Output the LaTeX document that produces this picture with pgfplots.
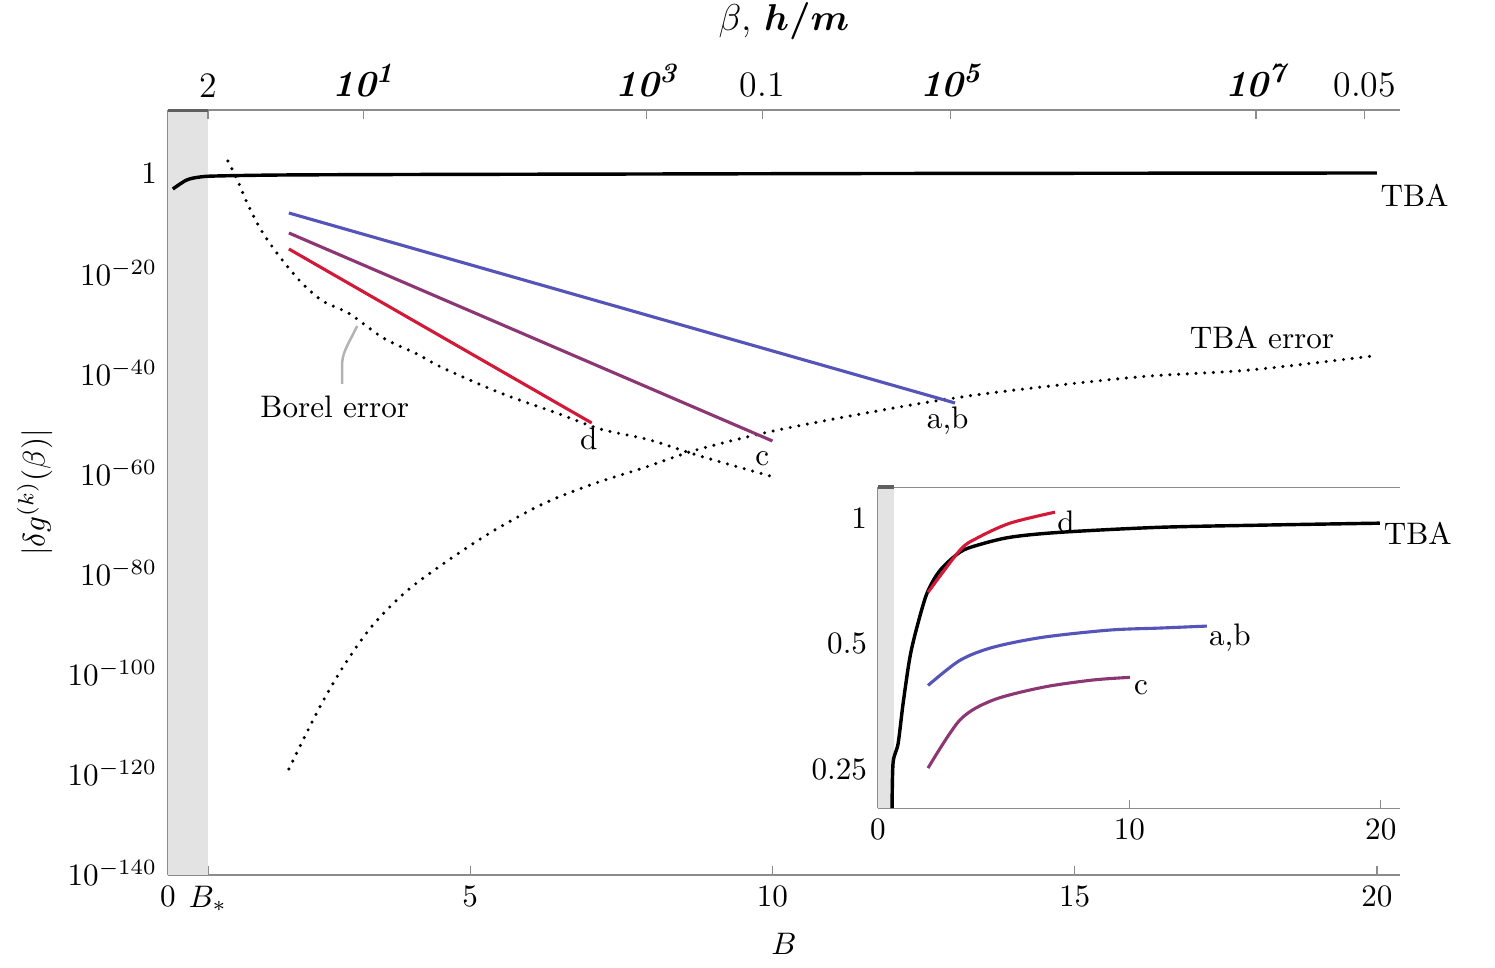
\documentclass[border=0pt]{standalone}
\usepackage{pgfplots}
\pgfplotsset{compat=1.18}
\usepackage{amsmath}
\usepackage{bm}

\definecolor{cab}{RGB}{85,85,185}
\definecolor{cc}{RGB}{140,55,115}
\definecolor{cd}{RGB}{210,25,55}
\definecolor{axgray}{RGB}{140,140,140}
\definecolor{band}{RGB}{227,227,227}

\pgfplotsset{
  dotline/.style={black, line width=1.1pt, line cap=round, dash pattern=on 0pt off 2.8pt},
  colline/.style={line width=1pt},
}
\newcommand{\bp}[1]{{\fontsize{11.8}{12}\selectfont\bfseries\itshape 10\textsuperscript{\fontsize{9}{10}\selectfont #1}}}

\begin{document}
\begin{tikzpicture}
\path[use as bounding box] (-53.76bp,-29.76bp) rectangle (424.64bp,280bp);

% ---------------- main axis ----------------
\begin{axis}[
  name=main, at={(0,0)}, anchor=south west,
  scale only axis, width=394.2bp, height=244.8bp,
  xmin=0, xmax=20.38, ymin=-140.4, ymax=12.6,
  axis x line*=bottom, axis y line*=left,
  axis line style={axgray,-},
  tick style={axgray, thin}, tick align=inside, major tick length=3bp,
  xtick={0,0.66,5,10,15,20},
  xticklabels={$0$,$B_*$,$5$,$10$,$15$,$20$},
  ytick={-140,-120,-100,-80,-60,-40,-20,0},
  yticklabels={$10^{-140}$,$10^{-120}$,$10^{-100}$,$10^{-80}$,$10^{-60}$,$10^{-40}$,$10^{-20}$,$1$},
  xlabel={$B$}, ylabel={$|\delta g^{(k)}(\beta)|$},
  ylabel style={yshift=-2bp},
  clip mode=individual,
]
\addplot[fill=band, draw=none] coordinates {(0,-140.4) (0.66,-140.4) (0.66,12.6) (0,12.6)} -- cycle;

% TBA
\addplot[black, line width=1.1pt, smooth] coordinates {
(0.08,-3.2) (0.31,-1.4) (0.53,-0.8) (0.8,-0.6) (1.9,-0.4) (4,-0.3) (7.97,-0.2) (12,-0.1) (20,0)};

% Borel error
\addplot[dotline, smooth] coordinates {
(0.99,2.4) (1.14,-1.2) (1.31,-6) (1.52,-11) (1.74,-15) (1.97,-18.6) (2.23,-22.2) (2.56,-25.6)
(3.01,-28.2) (3.56,-33) (4.12,-36.2) (4.55,-39) (5.5,-44) (6.43,-48) (7.15,-51.2) (7.97,-53.4)
(8.8,-56.6) (9.96,-60.6)};

% TBA error
\addplot[dotline, smooth] coordinates {
(2.0,-119.2) (2.35,-110.6) (2.63,-104.2) (2.96,-97.6) (3.39,-90.4) (3.95,-83.6) (4.62,-77.6)
(5.38,-71.6) (6.2,-66.2) (7.03,-62.2) (7.86,-59) (8.68,-55.6) (9.51,-53) (10.17,-51.2)
(11.28,-48.6) (12.39,-46.2) (13.48,-44.2) (14.9,-42.2) (16.24,-40.6) (17.9,-39.4) (19.93,-36.6)};

% series a,b ; c ; d
\addplot[cab, colline] coordinates {(2.0,-8) (13.02,-46)};
\addplot[cc, colline] coordinates {(2.0,-12) (10.0,-53.6)};
\addplot[cd, colline] coordinates {(2.0,-15.2) (7.01,-50)};

\node[anchor=west, inner sep=0pt] at (axis cs:20.05,-4.4) {TBA};
\node at (axis cs:2.76,-46.8) {Borel error};
\node at (axis cs:18.1,-33) {TBA error};
\node at (axis cs:6.96,-53.2) {d};
\node at (axis cs:9.83,-57.2) {c};
\node at (axis cs:12.9,-49.6) {a,b};
\draw[gray!60, line width=0.8pt] (axis cs:3.13,-30.6) .. controls (axis cs:2.95,-35) and (axis cs:2.88,-36) .. (axis cs:2.88,-38.6) -- (axis cs:2.88,-42.2);
\end{axis}

% ---------------- top axis ----------------
\begin{axis}[
  at={(0,0)}, anchor=south west,
  scale only axis, width=394.2bp, height=244.8bp,
  xmin=0, xmax=20.38, ymin=0, ymax=1,
  axis x line*=top, axis y line=none,
  axis line style={axgray,-},
  tick style={axgray, thin}, tick align=inside, major tick length=3bp,
  xtick={0.66,3.23,7.92,9.83,12.95,18.0,19.8},
  xticklabels={2,{\bp{1}},{\bp{3}},0.1,{\bp{5}},{\bp{7}},0.05},
  xticklabel style={yshift=0.6bp, font=\fontsize{11.5}{12}\selectfont},
  xlabel={$\beta$, $\bm{h/m}$},
  xlabel style={yshift=1bp, font=\fontsize{12.2}{13}\selectfont},
]
\draw[line width=1.3pt, gray!75!black] (axis cs:0,1) -- (axis cs:0.66,1);
\end{axis}

% ---------------- inset ----------------
\begin{axis}[
  at={(227.2bp,21.4bp)}, anchor=south west,
  scale only axis, width=167bp, height=102.7bp,
  xmin=0, xmax=20.76, ymode=log, log basis y=2, ymin=0.2015, ymax=1.187,
  axis x line*=bottom, axis y line*=left,
  axis line style={axgray,-},
  tick style={axgray, thin}, tick align=inside, major tick length=2.5bp,
  xtick={0,10,20}, xticklabels={$0$,$10$,$20$},
  ytick={0.25,0.5,1}, yticklabels={$0.25$,$0.5$,$1$},
  minor tick num=0, log ticks with fixed point,
  clip mode=individual,
]
\addplot[fill=band, draw=none] coordinates {(0,0.2015) (0.64,0.2015) (0.64,1.187) (0,1.187)} -- cycle;
\draw[axgray] (rel axis cs:0,1) -- (rel axis cs:1,1);
\draw[line width=1.3pt, gray!75!black] (rel axis cs:0,1) -- (axis cs:0.64,1.187);

\addplot[black, line width=1.1pt, smooth] coordinates {
(0.56,0.2015) (0.6,0.259) (0.8,0.288) (1.0,0.36) (1.27,0.464) (1.55,0.548) (1.95,0.661)
(2.47,0.75) (3.26,0.829) (3.94,0.861) (5.25,0.9) (7.24,0.925) (11.2,0.951) (15.5,0.963) (19.96,0.973)};
\addplot[cd, colline, smooth] coordinates {
(1.99,0.664) (3.26,0.838) (3.94,0.896) (5.25,0.973) (7.04,1.034)};
\addplot[cab, colline, smooth] coordinates {
(1.99,0.397) (3.26,0.456) (4.57,0.49) (6.56,0.518) (9.22,0.539) (11.21,0.545) (13.08,0.551)};
\addplot[cc, colline, smooth] coordinates {
(1.99,0.2514) (3.26,0.328) (4.57,0.366) (6.56,0.393) (8.55,0.409) (10.02,0.415)};

\node at (axis cs:7.48,0.978) {d};
\node at (axis cs:10.46,0.391) {c};
\node at (axis cs:14.0,0.518) {a,b};
\node[anchor=west, inner sep=0pt] at (axis cs:20.1,0.92) {TBA};
\end{axis}

\end{tikzpicture}
\end{document}
